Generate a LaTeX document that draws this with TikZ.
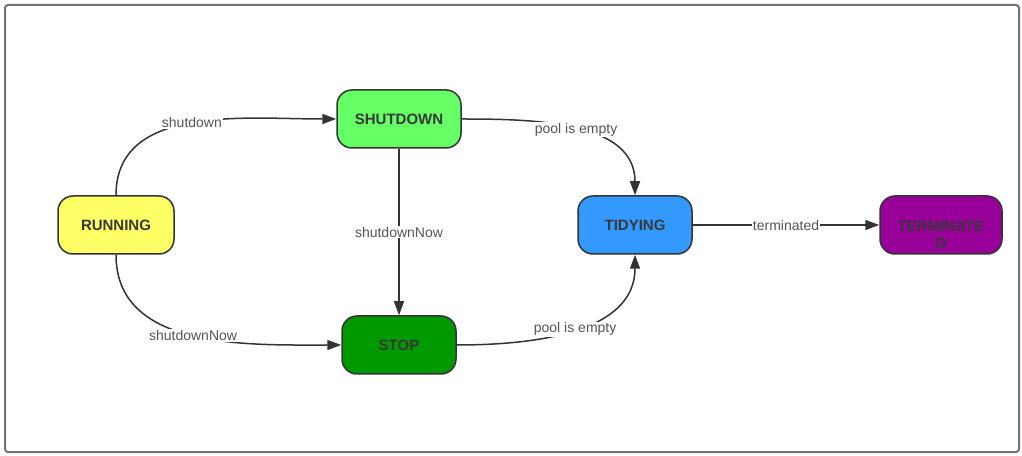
\documentclass[tikz,border=0pt]{standalone}
\usepackage{fontspec}
\setmainfont{Liberation Sans}
\usetikzlibrary{arrows.meta}
\definecolor{edgec}{HTML}{333333}
\definecolor{labc}{HTML}{555555}
\definecolor{cRun}{HTML}{FFFF66}
\definecolor{cShut}{HTML}{66FF66}
\definecolor{cStop}{HTML}{009900}
\definecolor{cTidy}{HTML}{3399FF}
\definecolor{cTerm}{HTML}{990099}
\tikzset{
  state/.style={draw=edgec, line width=1.5pt, rounded corners=15pt, minimum height=58pt,
    font=\fontsize{15}{18}\selectfont\bfseries, text=black!78, inner sep=0pt, align=center},
  conn/.style={draw=edgec, line width=1.5pt, -{Triangle[length=14pt,width=10pt]}},
  lab/.style={fill=white, inner sep=1pt, text=labc, font=\fontsize{14}{16}\selectfont},
}
\begin{document}
\begin{tikzpicture}[x=1pt,y=1pt]
\useasboundingbox (0,0) rectangle (1022,455);
\draw[draw=black!55, line width=2pt, rounded corners=3pt] (5,3) rectangle (1019,450);
\node[state, fill=cRun, minimum width=116pt] (run) at (116,230) {RUNNING};
\node[state, fill=cShut, minimum width=124pt] (shut) at (399,336) {SHUTDOWN};
\node[state, fill=cStop, minimum width=114pt] (stop) at (399,110) {STOP};
\node[state, fill=cTidy, minimum width=114pt] (tidy) at (635,230) {TIDYING};
\node[state, fill=cTerm, minimum width=122pt] (term) at (941,230)
  {\raisebox{0pt}[\height][0pt]{\begin{tabular}[t]{@{}c@{}}TERMINATE\\[-1pt]D\end{tabular}}};
\draw[conn] (run.north) to[out=90,in=180] node[lab,pos=0.5] {shutdown} (shut.west);
\draw[conn] (run.south) to[out=-90,in=180] node[lab,pos=0.5] {shutdownNow} (stop.west);
\draw[conn] (shut.south) -- node[lab] {shutdownNow} (stop.north);
\draw[conn] (shut.east) to[out=0,in=90] node[lab,pos=0.5] {pool is empty} (tidy.north);
\draw[conn] (stop.east) to[out=0,in=-90] node[lab,pos=0.5] {pool is empty} (tidy.south);
\draw[conn] (tidy.east) -- node[lab,pos=0.5] {terminated} (term.west);
\end{tikzpicture}
\end{document}
